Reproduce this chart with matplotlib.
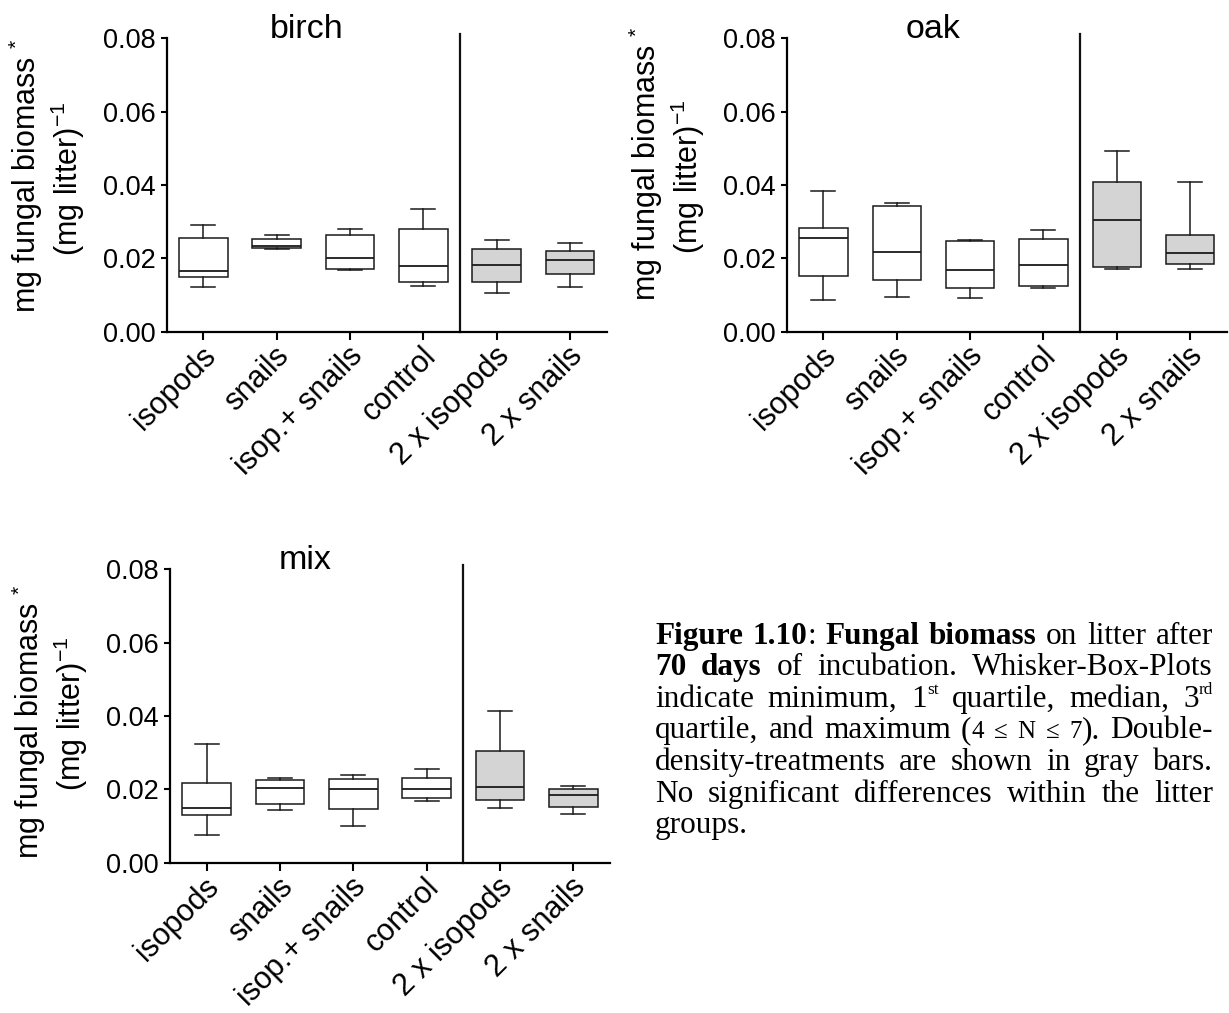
import matplotlib
matplotlib.use("Agg")
import matplotlib.pyplot as plt
from matplotlib.transforms import IdentityTransform, ScaledTranslation

plt.rcParams['font.family'] = ['Liberation Sans', 'DejaVu Sans']
plt.rcParams['mathtext.fontset'] = 'custom'
plt.rcParams['mathtext.rm'] = 'Liberation Sans'
plt.rcParams['mathtext.it'] = 'Liberation Sans:italic'
plt.rcParams['mathtext.bf'] = 'Liberation Sans:bold'

# ---------------- data ----------------
categories = ["isopods", "snails", "isop.+ snails", "control", "2 x isopods", "2 x snails"]
double_density = [False, False, False, False, True, True]
yticks = [0.00, 0.02, 0.04, 0.06, 0.08]
ytick_labels = ["0.00", "0.02", "0.04", "0.06", "0.08"]

birch_min = [0.0123, 0.0225, 0.0168, 0.0125, 0.0106, 0.0122]
birch_q1 = [0.0149, 0.0227, 0.0172, 0.0136, 0.0136, 0.0157]
birch_med = [0.0165, 0.0235, 0.0202, 0.0180, 0.0182, 0.0195]
birch_q3 = [0.0256, 0.0254, 0.0263, 0.0281, 0.0226, 0.0219]
birch_max = [0.0292, 0.0265, 0.0280, 0.0335, 0.0250, 0.0243]

oak_min = [0.0086, 0.0095, 0.0091, 0.0119, 0.0170, 0.0170]
oak_q1 = [0.0151, 0.0141, 0.0119, 0.0124, 0.0176, 0.0185]
oak_med = [0.0255, 0.0218, 0.0169, 0.0183, 0.0304, 0.0215]
oak_q3 = [0.0282, 0.0344, 0.0248, 0.0252, 0.0408, 0.0265]
oak_max = [0.0385, 0.0351, 0.0249, 0.0277, 0.0492, 0.0409]

mix_min = [0.0075, 0.0145, 0.0100, 0.0167, 0.0148, 0.0133]
mix_q1 = [0.0131, 0.0160, 0.0147, 0.0176, 0.0172, 0.0153]
mix_med = [0.0148, 0.0204, 0.0202, 0.0202, 0.0206, 0.0184]
mix_q3 = [0.0218, 0.0225, 0.0229, 0.0230, 0.0305, 0.0202]
mix_max = [0.0323, 0.0230, 0.0240, 0.0255, 0.0414, 0.0208]

ylabel_line1 = "mg fungal biomass $^{\\mathregular{*}}$"
ylabel_line2 = "(mg litter)$^{\\mathregular{-1}}$"

caption_lines = [
    [[("Figure", "b")], [("1.10", "b"), (":", "n")], [("Fungal", "b")], [("biomass", "b")],
     [("on", "n")], [("litter", "n")], [("after", "n")]],
    [[("70", "b")], [("days", "b")], [("of", "n")], [("incubation.", "n")], [("Whisker-Box-Plots", "n")]],
    [[("indicate", "n")], [("minimum,", "n")], [("1", "n"), ("st", "sup")], [("quartile,", "n")],
     [("median,", "n")], [("3", "n"), ("rd", "sup")]],
    [[("quartile,", "n")], [("and", "n")], [("maximum", "n")], [("(", "n"), ("4", "s")], [("\u2264", "s")],
     [("N", "s")], [("\u2264", "s")], [("7", "s"), (").", "n")], [("Double-", "n")]],
    [[("density-treatments", "n")], [("are", "n")], [("shown", "n")], [("in", "n")], [("gray", "n")], [("bars.", "n")]],
    [[("No", "n")], [("significant", "n")], [("differences", "n")], [("within", "n")], [("the", "n")], [("litter", "n")]],
    [[("groups.", "n")]],
]

# ---------------- figure ----------------
W, H = 1229, 1013
fig = plt.figure(figsize=(W / 100, H / 100), dpi=100)

def add_ax(left, top, w=440.0, h=293.4):
    return fig.add_axes([left / W, 1 - (top + h) / H, w / W, h / H])

panels = [
    dict(name="birch", left=166.7, top=38.3, title_x=2.41,
         mn=birch_min, q1=birch_q1, med=birch_med, q3=birch_q3, mx=birch_max, lab=(176, 179)),
    dict(name="oak", left=786.7, top=38.3, title_x=2.5,
         mn=oak_min, q1=oak_q1, med=oak_med, q3=oak_q3, mx=oak_max, lab=(164, 177)),
    dict(name="mix", left=170.0, top=569.3, title_x=2.34,
         mn=mix_min, q1=mix_q1, med=mix_med, q3=mix_q3, mx=mix_max, lab=(722, 714)),
]

positions = list(range(1, len(categories) + 1))
for p in panels:
    ax = add_ax(p["left"], p["top"])
    stats = [dict(whislo=a, q1=b, med=c, q3=d, whishi=e, fliers=[])
             for a, b, c, d, e in zip(p["mn"], p["q1"], p["med"], p["q3"], p["mx"])]
    bp = ax.bxp(stats, positions=positions, widths=0.66, capwidths=0.33, patch_artist=True,
                showfliers=False, manage_ticks=False,
                boxprops=dict(edgecolor="#1a1a1a", linewidth=1.1),
                medianprops=dict(color="#1a1a1a", linewidth=1.3),
                whiskerprops=dict(color="#1a1a1a", linewidth=1.1),
                capprops=dict(color="#1a1a1a", linewidth=1.1))
    for patch, dd in zip(bp["boxes"], double_density):
        patch.set_facecolor("#d4d4d4" if dd else "white")

    ax.set_xlim(0.5, 6.5)
    ax.set_ylim(0, 0.08)
    ax.spines["top"].set_visible(False)
    ax.spines["right"].set_visible(False)
    ax.spines["left"].set_linewidth(1.6)
    ax.spines["bottom"].set_linewidth(1.6)
    ax.set_yticks(yticks)
    ax.set_yticklabels(ytick_labels, fontsize=19.5)
    ax.tick_params(axis="y", direction="out", length=4, width=1.5, pad=4)
    ax.set_xticks(positions)
    ax.set_xticklabels(categories, rotation=45, ha="right", va="center",
                       rotation_mode="anchor", fontsize=22)
    ax.tick_params(axis="x", direction="out", length=5.5, width=1.5, pad=9)
    off = ScaledTranslation(8 / 100, 0, fig.dpi_scale_trans)
    for lbl in ax.get_xticklabels():
        lbl.set_transform(lbl.get_transform() + off)

    ax.plot([4.5, 4.5], [0, 0.0811], color="#111111", lw=1.6, clip_on=False)
    ax.text(p["title_x"], 0.08, p["name"], ha="center", va="baseline", fontsize=24.5)

    # y label as two lines
    l1y, l2y = p["lab"]
    fig.text(p["left"] - 131, H - l1y, ylabel_line1, transform=IdentityTransform(),
             rotation=90, rotation_mode="anchor", ha="center", va="baseline", fontsize=22)
    fig.text(p["left"] - 89, H - l2y, ylabel_line2, transform=IdentityTransform(),
             rotation=90, rotation_mode="anchor", ha="center", va="baseline", fontsize=22)

# ---------------- caption (justified) ----------------
cap_left, cap_right = 655.0, 1213.0
cap_base0, cap_step = 643.5, 31.6
cap_fs = 22.5
serif = ["Liberation Serif", "DejaVu Serif"]
styles = {
    "n": dict(scale=1.0, weight="normal", rise=0.0),
    "b": dict(scale=1.0, weight="bold", rise=0.0),
    "sup": dict(scale=0.55, weight="normal", rise=0.40),
    "s": dict(scale=0.8, weight="normal", rise=0.0),
}
renderer = fig.canvas.get_renderer()
px_per_pt = 100 / 72

for li, line in enumerate(caption_lines):
    y_base = H - (cap_base0 + li * cap_step)
    words = []
    for word in line:
        segs = []
        wsum = 0.0
        for txt, st in word:
            s = styles[st]
            t = fig.text(0, 0, txt, transform=IdentityTransform(), fontsize=cap_fs * s["scale"],
                         fontweight=s["weight"], family=serif, ha="left", va="baseline")
            wdt = t.get_window_extent(renderer=renderer).width
            segs.append((t, wdt, s))
            wsum += wdt
        words.append((segs, wsum))
    total = sum(w for _, w in words)
    last = li == len(caption_lines) - 1
    if len(words) > 1 and not last:
        gap = (cap_right - cap_left - total) / (len(words) - 1)
    else:
        gap = cap_fs * px_per_pt * 0.25
    x = cap_left
    for segs, wsum in words:
        for t, wdt, s in segs:
            t.set_position((x, y_base + s["rise"] * cap_fs * px_per_pt))
            x += wdt
        x += gap

fig.savefig("out.png", dpi=100)
